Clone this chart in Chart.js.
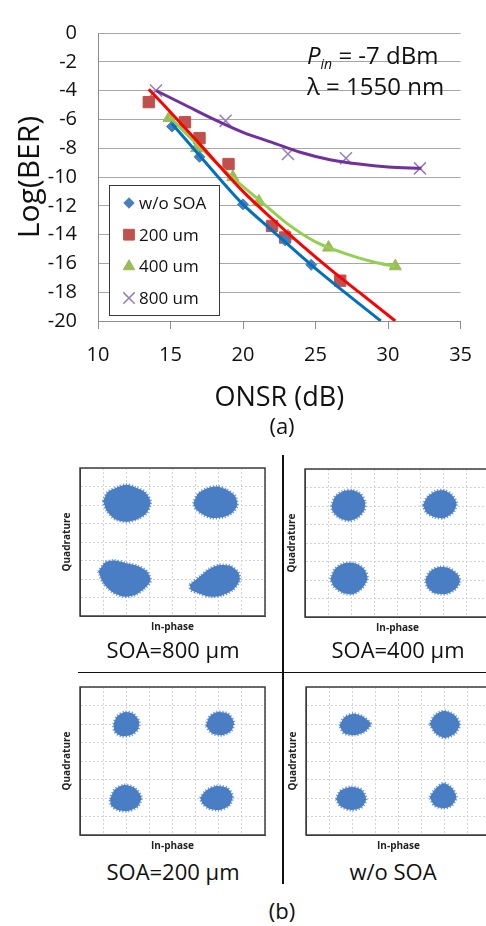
<!DOCTYPE html>
<html>
<head>
<meta charset="utf-8">
<script src="https://cdn.jsdelivr.net/npm/chart.js@4.4.0/dist/chart.umd.min.js"></script>
<style>
  body { margin: 0; width: 486px; height: 926px; overflow: hidden; position: relative; background: #fff; font-family: "Open Sans", sans-serif; color: #111; }
  canvas { position: absolute; }
  .cap { position: absolute; text-align: center; font-size: 22px; line-height: 26px; white-space: nowrap; }
  .rule { position: absolute; background: #111; }
</style>
</head>
<body>
<canvas id="ber" width="486" height="440" style="left:0;top:0"></canvas>
<div class="cap" style="left:232px;top:412px;width:100px;">(a)</div>

<canvas id="c800" width="211" height="171" style="left:57px;top:466px"></canvas>
<canvas id="c400" width="211" height="171" style="left:282px;top:467px"></canvas>
<canvas id="c200" width="211" height="171" style="left:57px;top:685px"></canvas>
<canvas id="cwo" width="211" height="171" style="left:283px;top:685px"></canvas>

<div class="cap" style="left:93px;top:636px;width:160px;">SOA=800 &micro;m</div>
<div class="cap" style="left:318px;top:636px;width:160px;">SOA=400 &micro;m</div>
<div class="cap" style="left:93px;top:858px;width:160px;">SOA=200 &micro;m</div>
<div class="cap" style="left:313px;top:858px;width:160px;">w/o SOA</div>
<div class="cap" style="left:232px;top:897px;width:100px;">(b)</div>

<div class="rule" style="left:282px;top:455px;width:1.5px;height:429px;"></div>
<div class="rule" style="left:78px;top:671.5px;width:408px;height:1.5px;"></div>

<script>
// BER against ONSR, measured points for each SOA length
var onsrWo  = [15.1, 17.0, 20.0, 22.9, 24.7];
var berWo   = [-6.5, -8.6, -11.9, -14.4, -16.1];
var onsr200 = [13.5, 16.0, 17.0, 19.0, 22.0, 22.9, 26.7];
var ber200  = [-4.8, -6.2, -7.3, -9.1, -13.4, -14.2, -17.2];
var onsr400 = [14.9, 16.8, 19.3, 21.1, 23.1, 25.9, 30.5];
var ber400  = [-5.9, -8.0, -10.0, -11.7, -14.1, -14.9, -16.2];
var onsr800 = [14.0, 18.8, 23.1, 27.1, 32.2];
var ber800  = [-4.0, -6.1, -8.4, -8.7, -9.4];

// trend lines
var fitXWo  = [15.1, 17, 20, 22, 24.7, 27, 29.5];
var fitYWo  = [-6.3, -8.5, -11.9, -13.7, -16.1, -18.0, -20.0];
var fitX200 = [13.5, 15, 17, 20, 22, 24, 26, 28, 30.5];
var fitY200 = [-3.9, -5.5, -7.7, -11.0, -12.9, -14.7, -16.4, -18.0, -20.0];
var fitX400 = [14.9, 17, 19, 21, 23, 25, 27, 29, 30.5];
var fitY400 = [-5.8, -7.9, -9.8, -11.5, -13.2, -14.5, -15.3, -15.9, -16.2];
var fitX800 = [14, 16, 18, 20, 22, 24, 26, 28, 30, 32.3];
var fitY800 = [-4.0, -5.0, -6.0, -6.9, -7.6, -8.3, -8.8, -9.1, -9.3, -9.4];

var legendNames = ['w/o SOA', '200 um', '400 um', '800 um'];
var xTicks = [10, 15, 20, 25, 30, 35];

var FONT = '"Open Sans", sans-serif';

function pts(xs, ys) {
  return xs.map(function (x, i) { return { x: x, y: ys[i] }; });
}

var markers = [
  { label: legendNames[0], data: pts(onsrWo, berWo),   pointStyle: 'rectRot',  pointRadius: 5.5, backgroundColor: '#4a7ebb', borderColor: '#4a7ebb', borderWidth: 1 },
  { label: legendNames[1], data: pts(onsr200, ber200), pointStyle: 'rect',     pointRadius: 8,   backgroundColor: '#c0504d', borderColor: '#c0504d', borderWidth: 1 },
  { label: legendNames[2], data: pts(onsr400, ber400), pointStyle: 'triangle', pointRadius: 7,   backgroundColor: '#9bbb59', borderColor: '#9bbb59', borderWidth: 1 },
  { label: legendNames[3], data: pts(onsr800, ber800), pointStyle: 'crossRot', pointRadius: 8.5, backgroundColor: '#8064a2', borderColor: '#9480b8', borderWidth: 1.5 }
];
markers.forEach(function (d) { d.showLine = false; d.order = 2; });

var fits = [
  { data: pts(fitXWo, fitYWo),   borderColor: '#0070c0' },
  { data: pts(fitX200, fitY200), borderColor: '#ff0000' },
  { data: pts(fitX400, fitY400), borderColor: '#92d050' },
  { data: pts(fitX800, fitY800), borderColor: '#7030a0' }
];
fits.forEach(function (d) {
  d.borderWidth = 3; d.pointRadius = 0; d.cubicInterpolationMode = 'monotone'; d.order = 1; d.fill = false;
});

// boxed legend inside the plot plus the operating point note
var berNotes = {
  id: 'berNotes',
  afterDatasetsDraw: function (chart) {
    var ctx = chart.ctx;
    ctx.save();
    ctx.fillStyle = '#fff';
    ctx.fillRect(109.5, 185.5, 110, 130);
    ctx.strokeStyle = '#3a3a3a';
    ctx.lineWidth = 1;
    ctx.strokeRect(109.5, 185.5, 110, 130);
    markers.forEach(function (d, i) {
      var y = 203 + i * 31.7;
      ctx.fillStyle = d.backgroundColor;
      ctx.strokeStyle = d.borderColor;
      ctx.lineWidth = d.borderWidth;
      Chart.helpers.drawPoint(ctx, { pointStyle: d.pointStyle, radius: d.pointRadius * 0.95, borderWidth: d.borderWidth, rotation: 0 }, 129, y);
      ctx.fillStyle = '#111';
      ctx.font = '17px ' + FONT;
      ctx.textBaseline = 'middle';
      ctx.fillText(d.label, 139, y + 1);
    });

    ctx.fillStyle = '#111';
    ctx.textBaseline = 'alphabetic';
    ctx.font = 'italic 24px ' + FONT;
    ctx.fillText('P', 307, 64);
    var x = 307 + ctx.measureText('P').width;
    ctx.font = 'italic 14px ' + FONT;
    ctx.fillText('in', x, 69);
    x += ctx.measureText('in').width;
    ctx.font = '24px ' + FONT;
    ctx.fillText(' = -7 dBm', x, 64);
    ctx.fillText('\u03bb = 1550 nm', 307, 95);
    ctx.restore();
  }
};

new Chart(document.getElementById('ber'), {
  type: 'line',
  data: { datasets: fits.concat(markers) },
  plugins: [berNotes],
  options: {
    responsive: false,
    animation: false,
    layout: { padding: { top: 12, right: 19, left: 0, bottom: 0 } },
    plugins: { legend: { display: false }, tooltip: { enabled: false } },
    scales: {
      x: {
        type: 'linear', min: 10, max: 35,
        afterBuildTicks: function (s) { s.ticks = xTicks.map(function (v) { return { value: v }; }); },
        afterFit: function (s) { s.height = 119; },
        ticks: { font: { family: FONT, size: 20 }, color: '#111', padding: 14 },
        grid: { drawOnChartArea: false, drawTicks: true, tickLength: 8, color: '#8c8c8c' },
        border: { color: '#8c8c8c', width: 1 },
        title: { display: true, text: 'ONSR (dB)', font: { family: FONT, size: 27 }, color: '#111', padding: { top: 0, bottom: 25 } }
      },
      y: {
        min: -20, max: 0,
        afterFit: function (s) { s.width = 98; },
        ticks: { stepSize: 2, font: { family: FONT, size: 20 }, color: '#111', padding: 21 },
        grid: { color: '#a6a6a6', drawTicks: false },
        border: { color: '#8c8c8c', width: 1 },
        title: { display: true, text: 'Log(BER)', font: { family: FONT, size: 30 }, color: '#111', padding: { top: 12, bottom: 0 } }
      }
    }
  }
});

// received QPSK constellations: outline of each symbol cloud as (I, Q)
var iq800 = [
  [[-3.0, 2.2], [-2.8, 2.7], [-2.4, 2.95], [-2.0, 3.1], [-1.6, 2.95], [-1.2, 2.7], [-0.95, 2.2], [-1.1, 1.6], [-1.5, 1.25], [-2.0, 1.1], [-2.5, 1.25], [-2.85, 1.7]],
  [[0.9, 2.1], [1.1, 2.6], [1.5, 2.9], [1.9, 3.0], [2.3, 2.85], [2.7, 2.5], [2.8, 2.0], [2.6, 1.6], [2.2, 1.35], [1.7, 1.3], [1.3, 1.5], [1.0, 1.8]],
  [[-3.2, -1.6], [-2.9, -1.1], [-2.5, -1.0], [-2.0, -1.15], [-1.5, -1.3], [-1.1, -1.6], [-0.95, -2.1], [-1.2, -2.5], [-1.6, -2.85], [-2.1, -2.95], [-2.6, -2.7], [-3.0, -2.2]],
  [[0.75, -2.3], [1.2, -1.85], [1.6, -1.45], [2.0, -1.25], [2.5, -1.3], [2.85, -1.65], [2.9, -2.1], [2.6, -2.6], [2.1, -2.9], [1.6, -2.95], [1.1, -2.75], [0.8, -2.6]]
];
var iq400 = [
  [[-2.85, 2.0], [-2.7, 2.5], [-2.35, 2.8], [-1.95, 2.85], [-1.6, 2.65], [-1.4, 2.2], [-1.45, 1.75], [-1.75, 1.35], [-2.1, 1.2], [-2.5, 1.35], [-2.8, 1.7]],
  [[1.1, 2.05], [1.3, 2.5], [1.65, 2.8], [2.0, 2.85], [2.35, 2.6], [2.55, 2.15], [2.4, 1.65], [2.0, 1.35], [1.6, 1.4], [1.25, 1.65]],
  [[-2.9, -1.95], [-2.7, -1.4], [-2.3, -1.1], [-1.85, -1.1], [-1.45, -1.4], [-1.3, -1.9], [-1.5, -2.4], [-1.9, -2.75], [-2.35, -2.7], [-2.75, -2.35]],
  [[1.2, -2.0], [1.4, -1.55], [1.8, -1.3], [2.2, -1.35], [2.6, -1.7], [2.7, -2.1], [2.5, -2.5], [2.1, -2.75], [1.6, -2.7], [1.3, -2.4]]
];
var iq200 = [
  [[-2.55, 2.0], [-2.4, 2.4], [-2.05, 2.65], [-1.7, 2.55], [-1.45, 2.15], [-1.5, 1.7], [-1.8, 1.4], [-2.2, 1.35], [-2.5, 1.6]],
  [[1.45, 1.9], [1.6, 2.4], [1.95, 2.65], [2.4, 2.55], [2.65, 2.1], [2.55, 1.65], [2.15, 1.4], [1.7, 1.5]],
  [[-2.7, -2.05], [-2.5, -1.55], [-2.1, -1.3], [-1.65, -1.45], [-1.35, -1.95], [-1.5, -2.45], [-1.9, -2.7], [-2.35, -2.65], [-2.65, -2.4]],
  [[1.2, -2.0], [1.45, -1.6], [1.9, -1.35], [2.35, -1.45], [2.6, -1.9], [2.45, -2.4], [2.0, -2.65], [1.55, -2.55], [1.3, -2.3]]
];
var iqWo = [
  [[-2.55, 1.9], [-2.35, 2.35], [-1.95, 2.55], [-1.55, 2.4], [-1.2, 2.0], [-1.45, 1.6], [-1.9, 1.4], [-2.35, 1.5]],
  [[1.35, 2.0], [1.55, 2.45], [1.95, 2.7], [2.4, 2.5], [2.65, 2.0], [2.45, 1.5], [2.0, 1.25], [1.6, 1.5]],
  [[-2.7, -2.05], [-2.5, -1.6], [-2.05, -1.4], [-1.6, -1.55], [-1.4, -2.05], [-1.6, -2.5], [-2.05, -2.65], [-2.5, -2.45]],
  [[1.35, -1.95], [1.6, -1.5], [1.95, -1.2], [2.3, -1.45], [2.5, -1.95], [2.3, -2.4], [1.95, -2.55], [1.55, -2.4]]
];

var frame = {
  id: 'frame',
  afterDraw: function (chart) {
    var a = chart.chartArea, ctx = chart.ctx;
    ctx.save();
    ctx.strokeStyle = '#3c3c3c';
    ctx.lineWidth = 1.5;
    ctx.strokeRect(a.left, a.top, a.right - a.left, a.bottom - a.top);
    ctx.restore();
  }
};

function constellation(id, clouds) {
  var sets = clouds.map(function (c) {
    var ring = c.concat([c[0]]);
    return {
      data: ring.map(function (p) { return { x: p[0], y: p[1] }; }),
      fill: 'shape', tension: 0.25, pointRadius: 0,
      backgroundColor: '#4a7ec4', borderColor: 'rgba(74,126,196,0.8)', borderWidth: 3, borderDash: [1.2, 1.8]
    };
  });
  var titleFont = { family: FONT, size: 10, weight: 'bold' };
  new Chart(document.getElementById(id), {
    type: 'line',
    data: { datasets: sets },
    plugins: [frame],
    options: {
      responsive: false,
      animation: false,
      layout: { padding: { top: 2, right: 3, left: 0, bottom: 0 } },
      plugins: { legend: { display: false }, tooltip: { enabled: false } },
      scales: {
        x: {
          type: 'linear', min: -4, max: 4,
          afterFit: function (s) { s.height = 21; },
          ticks: { display: false, stepSize: 1 },
          grid: { color: '#d4d4d4', drawTicks: false },
          border: { color: '#3c3c3c', dash: [2, 2] },
          title: { display: true, text: 'In-phase', font: titleFont, color: '#222', padding: { top: 0, bottom: 4 } }
        },
        y: {
          min: -4, max: 4,
          afterFit: function (s) { s.width = 23; },
          ticks: { display: false, stepSize: 1 },
          grid: { color: '#d4d4d4', drawTicks: false },
          border: { color: '#3c3c3c', dash: [2, 2] },
          title: { display: true, text: 'Quadrature', font: titleFont, color: '#222', padding: { top: 4, bottom: 0 } }
        }
      }
    }
  });
}

constellation('c800', iq800);
constellation('c400', iq400);
constellation('c200', iq200);
constellation('cwo', iqWo);
</script>
</body>
</html>
